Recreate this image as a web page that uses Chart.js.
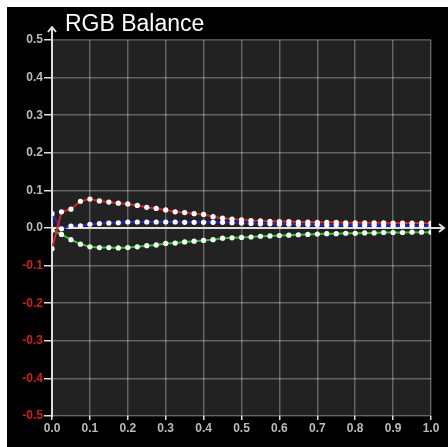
<!DOCTYPE html>
<html>
<head>
<meta charset="utf-8">
<script src="https://cdn.jsdelivr.net/npm/chart.js@4.4.0/dist/chart.umd.min.js"></script>
<style>
  body { margin: 0; background: #fff; }
  #wrap { position: absolute; left: 7px; top: 7px; width: 441px; height: 440px; background: #000; }
</style>
</head>
<body>
<div id="wrap"><canvas id="myChart" width="441" height="440"></canvas></div>
<script>
// sample positions (x axis)
const xVals = [0, 0.025, 0.05, 0.075, 0.1, 0.125, 0.15, 0.175, 0.2, 0.225,
    0.25, 0.275, 0.3, 0.325, 0.35, 0.375, 0.4, 0.425, 0.45, 0.475,
    0.5, 0.525, 0.55, 0.575, 0.6, 0.625, 0.65, 0.675, 0.7, 0.725,
    0.75, 0.775, 0.8, 0.825, 0.85, 0.875, 0.9, 0.925, 0.95, 0.975, 1.0];

const redVals = [-0.055, 0.043, 0.05, 0.071, 0.077, 0.072, 0.069, 0.066, 0.064, 0.06,
    0.055, 0.052, 0.048, 0.043, 0.041, 0.038, 0.036, 0.03, 0.026, 0.024,
    0.022, 0.02, 0.019, 0.018, 0.017, 0.017, 0.016, 0.016, 0.015, 0.015,
    0.015, 0.014, 0.014, 0.014, 0.014, 0.014, 0.013, 0.013, 0.013, 0.013, 0.013];

const greenVals = [-0.006, -0.017, -0.031, -0.043, -0.05, -0.052, -0.052, -0.053, -0.052, -0.05,
    -0.047, -0.045, -0.041, -0.04, -0.037, -0.035, -0.033, -0.031, -0.027, -0.026,
    -0.025, -0.024, -0.022, -0.021, -0.02, -0.019, -0.018, -0.017, -0.016, -0.015,
    -0.015, -0.014, -0.014, -0.013, -0.013, -0.012, -0.012, -0.012, -0.011, -0.011, -0.011];

const blueVals = [0.038, -0.002, 0.005, 0.006, 0.01, 0.012, 0.013, 0.014, 0.016, 0.016,
    0.016, 0.016, 0.016, 0.016, 0.015, 0.015, 0.015, 0.015, 0.015, 0.014,
    0.013, 0.012, 0.011, 0.011, 0.01, 0.01, 0.009, 0.009, 0.009, 0.008,
    0.008, 0.008, 0.007, 0.007, 0.007, 0.007, 0.006, 0.006, 0.006, 0.006, 0.006];

function toPoints(arr) {
    return arr.map((v, i) => ({ x: xVals[i], y: v }));
}

function series(arr, color) {
    return {
        data: toPoints(arr),
        borderColor: color,
        borderWidth: 2,
        pointRadius: 2.6,
        pointBackgroundColor: '#fff',
        pointBorderWidth: 0,
        tension: 0
    };
}

const plotBg = {
    id: 'plotBg',
    beforeDraw(chart) {
        const a = chart.chartArea, c = chart.ctx;
        c.save();
        c.fillStyle = '#222';
        c.fillRect(a.left, a.top, a.right - a.left, a.bottom - a.top);
        c.restore();
    }
};

const axesArrows = {
    id: 'axesArrows',
    beforeDatasetsDraw(chart) {
        const c = chart.ctx, xs = chart.scales.x, ys = chart.scales.y;
        const x0 = xs.getPixelForValue(0), y0 = ys.getPixelForValue(0);
        const a = chart.chartArea;
        c.save();
        c.strokeStyle = '#ddd';
        c.lineWidth = 2;
        c.beginPath();
        c.moveTo(x0, a.bottom + 1);
        c.lineTo(x0, a.top - 13);
        c.moveTo(x0 - 4, a.top - 8);
        c.lineTo(x0, a.top - 13);
        c.lineTo(x0 + 4, a.top - 8);
        c.moveTo(a.left, y0);
        c.lineTo(a.right + 13, y0);
        c.moveTo(a.right + 8, y0 - 4);
        c.lineTo(a.right + 13, y0);
        c.lineTo(a.right + 8, y0 + 4);
        c.stroke();
        c.restore();
    },
    afterDraw(chart) {
        const c = chart.ctx;
        c.save();
        c.fillStyle = '#fff';
        c.font = '23px "Liberation Sans", Arial, sans-serif';
        c.textBaseline = 'alphabetic';
        c.fillText('RGB Balance', 58, 24);
        c.restore();
    }
};

const tickFont = { family: '"Liberation Sans", Arial, sans-serif', size: 12, weight: 'bold' };
const gridColor = 'rgba(255,255,255,0.3)';

var myChart = new Chart(document.getElementById('myChart'), {
    type: 'line',
    data: {
        datasets: [
            series(redVals, '#dd2222'),
            series(greenVals, '#22cc22'),
            series(blueVals, '#2222dd')
        ]
    },
    options: {
        responsive: false,
        animation: false,
        layout: { padding: { left: 0, top: 33, right: 17, bottom: 0 } },
        plugins: { legend: { display: false }, tooltip: { enabled: false } },
        scales: {
            x: {
                type: 'linear',
                min: 0,
                max: 1,
                afterFit(scale) { scale.height = 31; },
                border: { display: false },
                grid: { color: gridColor, tickColor: '#ddd', tickLength: 4, lineWidth: 1.5 },
                ticks: {
                    stepSize: 0.1,
                    color: '#bbb',
                    font: tickFont,
                    padding: 1,
                    maxRotation: 0,
                    callback: v => v.toFixed(1)
                }
            },
            y: {
                min: -0.5,
                max: 0.5,
                afterFit(scale) { scale.width = 45; },
                border: { display: false },
                grid: { color: gridColor, tickColor: '#ddd', tickLength: 8, lineWidth: 1.5 },
                ticks: {
                    stepSize: 0.1,
                    font: tickFont,
                    padding: 1,
                    color: ctx => ctx.tick.value < -0.001 ? '#cc2020' : '#bbb',
                    callback: v => v.toFixed(1)
                }
            }
        }
    },
    plugins: [plotBg, axesArrows]
});
</script>
</body>
</html>
